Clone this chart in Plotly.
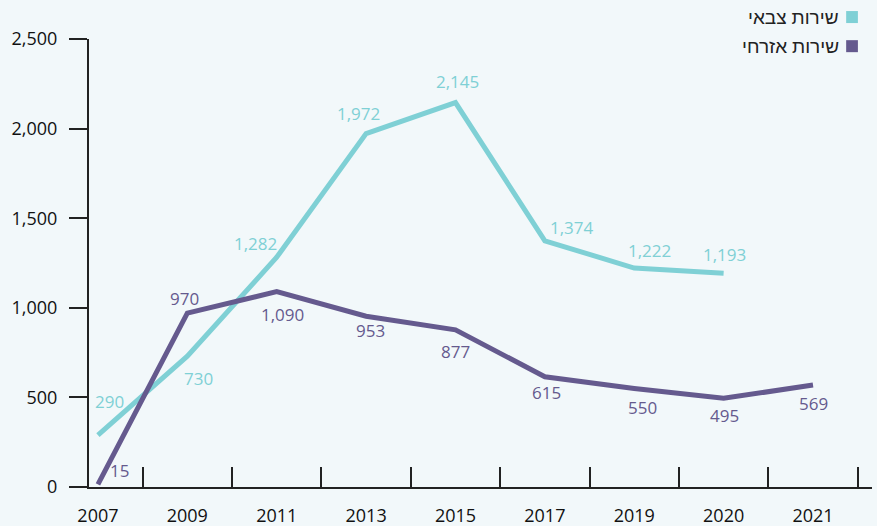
import plotly.graph_objects as go

_TEAL   = "#7fd0d5"
_PURPLE = "#655a8e"
_BG     = "#f2f8fa"
_FONT   = "Open Sans, Noto Sans, sans-serif"

years = ["2007", "2009", "2011", "2013", "2015", "2017", "2019", "2020", "2021"]
military = [290, 730, 1282, 1972, 2145, 1374, 1222, 1193]
civil = [15, 970, 1090, 953, 877, 615, 550, 495, 569]

# label offsets in px (dx, dy), dy positive = up
military_off = [(12, 34), (11, -22), (-21, 14), (-8, 20),
                (2, 21), (27, 13), (15, 18), (1, 19)]
civil_off = [(22, 14), (-3, 15), (6, -23), (4, -14), (0, -22),
             (2, -16), (8, -19), (1, -17), (0, -18)]

fig = go.Figure()
fig.add_trace(go.Scatter(
    x=years[:len(military)], y=military, name="שירות צבאי",
    mode="lines", line=dict(color=_TEAL, width=5), cliponaxis=False,
))
fig.add_trace(go.Scatter(
    x=years, y=civil, name="שירות אזרחי",
    mode="lines", line=dict(color=_PURPLE, width=5), cliponaxis=False,
))

# value labels (x given as category index)
for vals, offs, color in [(military, military_off, _TEAL), (civil, civil_off, _PURPLE)]:
    for i, (v, (dx, dy)) in enumerate(zip(vals, offs)):
        fig.add_annotation(x=i, y=v, text=f"{v:,}", showarrow=False,
                           xshift=dx, yshift=dy,
                           font=dict(size=17, color=color, family=_FONT))

# legend drawn RTL-style: text with square to its right
for i, (label, color) in enumerate([("שירות צבאי", _TEAL), ("שירות אזרחי", _PURPLE)]):
    yy = 1.049 - i * 0.065
    fig.add_annotation(x=0.961, y=yy, xref="paper", yref="paper",
                       text=label, showarrow=False, xanchor="right", yanchor="middle",
                       font=dict(size=19, color="#222", family="Noto Sans, sans-serif"))
    fig.add_shape(type="rect", xref="paper", yref="paper",
                  x0=0.967, x1=0.982, y0=yy - 0.0134, y1=yy + 0.0134,
                  fillcolor=color, line_width=0)

fig.update_xaxes(
    type="category", range=[-0.1, 8.66], automargin=False,
    showline=True, linecolor="#222", linewidth=2,
    ticks="inside", ticklen=20, tickwidth=2, tickcolor="#222",
    tickson="boundaries", showgrid=False, ticklabelstandoff=11,
    tickfont=dict(size=18, color="#111", family=_FONT),
)
fig.update_yaxes(
    range=[0, 2500], tickvals=[0, 500, 1000, 1500, 2000, 2500],
    tickformat=",", showline=True, linecolor="#222", linewidth=2,
    ticks="outside", ticklen=18, tickwidth=2, tickcolor="#222",
    showgrid=False, zeroline=False, automargin=False, ticklabelstandoff=8,
    tickfont=dict(size=18, color="#111", family=_FONT),
)
fig.update_layout(
    width=877, height=526,
    paper_bgcolor=_BG, plot_bgcolor=_BG,
    showlegend=False,
    margin=dict(l=89, r=5, t=39, b=39),
)
fig.write_html(
    "out.html",
    config={"displayModeBar": False},
    post_script="document.body.style.margin='0';"
                "document.body.style.background='" + _BG + "';",
)
